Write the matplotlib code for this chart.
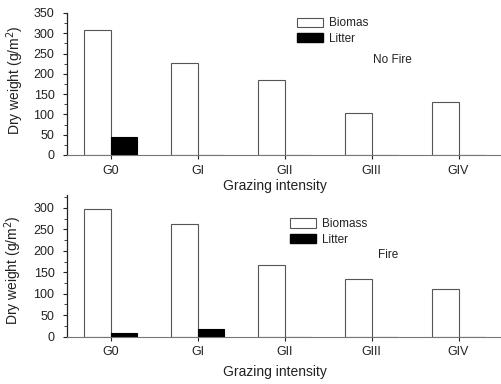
import numpy as np
import matplotlib.pyplot as plt
from matplotlib.patches import Patch

plt.rcParams['font.family'] = ['Liberation Sans', 'DejaVu Sans']

# Grazing intensity classes
groups = ['G0', 'GI', 'GII', 'GIII', 'GIV']

# Dry weight (g/m2), without fire
biomass_nofire = [308, 227, 185, 103, 131]
litter_nofire = [44, 0, 0, 0, 0]

# Dry weight (g/m2), with fire
biomass_fire = [298, 262, 166, 135, 110]
litter_fire = [8, 17, 0, 0, 0]

txt = '#222222'
edge = '#555555'
w = 0.3
x = np.arange(len(groups))

fig = plt.figure(figsize=(5.02, 3.84), dpi=100)
ax1 = fig.add_axes([0.1335, 0.5964, 0.8665, 0.3698])
ax2 = fig.add_axes([0.1335, 0.1232, 0.8665, 0.3690])


def draw_panel(ax, biomass, litter, ymax, names, leg_anchor, note, note_xy, xlabel_y):
    ax.bar(x, biomass, width=-w, align='edge', color='white',
           edgecolor=edge, linewidth=0.8)
    ax.bar(x, litter, width=w, align='edge', color='black',
           edgecolor='black', linewidth=0.8)
    ax.set_xlim(-0.5, 4.5)
    ax.set_ylim(0, ymax)
    ax.set_xticks(x)
    ax.set_xticklabels(groups)
    ax.set_yticks(np.arange(0, ymax + 1, 50))
    ax.set_yticks(np.arange(0, ymax + 1, 25), minor=True)
    ax.tick_params(axis='y', which='major', length=3, pad=6, labelsize=9,
                   colors=txt, direction='out')
    ax.tick_params(axis='y', which='minor', length=2, colors=txt)
    ax.tick_params(axis='x', length=3, pad=4, labelsize=9, colors=txt)
    for s in ['top', 'right']:
        ax.spines[s].set_visible(False)
    ax.spines['left'].set_color(txt)
    ax.spines['left'].set_linewidth(0.9)
    ax.spines['bottom'].set_color('#777777')
    ax.spines['bottom'].set_linewidth(0.8)
    ax.spines['bottom'].set_linestyle((0, (3, 1)))

    ax.set_xlabel('Grazing intensity', fontsize=10, color=txt)
    ax.xaxis.set_label_coords(0.478, xlabel_y)
    ax.set_ylabel('Dry weight (g/m$^2$)', fontsize=10, color=txt)

    handles = [Patch(facecolor='white', edgecolor=edge, linewidth=0.8),
               Patch(facecolor='black', edgecolor='black')]
    ax.legend(handles, names, loc='upper left', bbox_to_anchor=leg_anchor,
              bbox_transform=fig.transFigure, frameon=False, fontsize=8.5,
              borderpad=0, borderaxespad=0, handlelength=2.2,
              handleheight=0.8, labelspacing=0.3, handletextpad=0.5,
              labelcolor=txt)
    fig.text(note_xy[0], note_xy[1], note, fontsize=8.5, color=txt,
             ha='center', va='center')


draw_panel(ax1, biomass_nofire, litter_nofire, 350, ['Biomas', 'Litter'],
           (0.592, 0.955), 'No Fire', (0.781, 0.844), -0.17)
ax1.yaxis.set_label_coords(-0.095, 0.53)

draw_panel(ax2, biomass_fire, litter_fire, 330, ['Biomass', 'Litter'],
           (0.578, 0.432), 'Fire', (0.773, 0.336), -0.2)
ax2.yaxis.set_label_coords(-0.1, 0.47)

fig.savefig('out.png', dpi=100)
